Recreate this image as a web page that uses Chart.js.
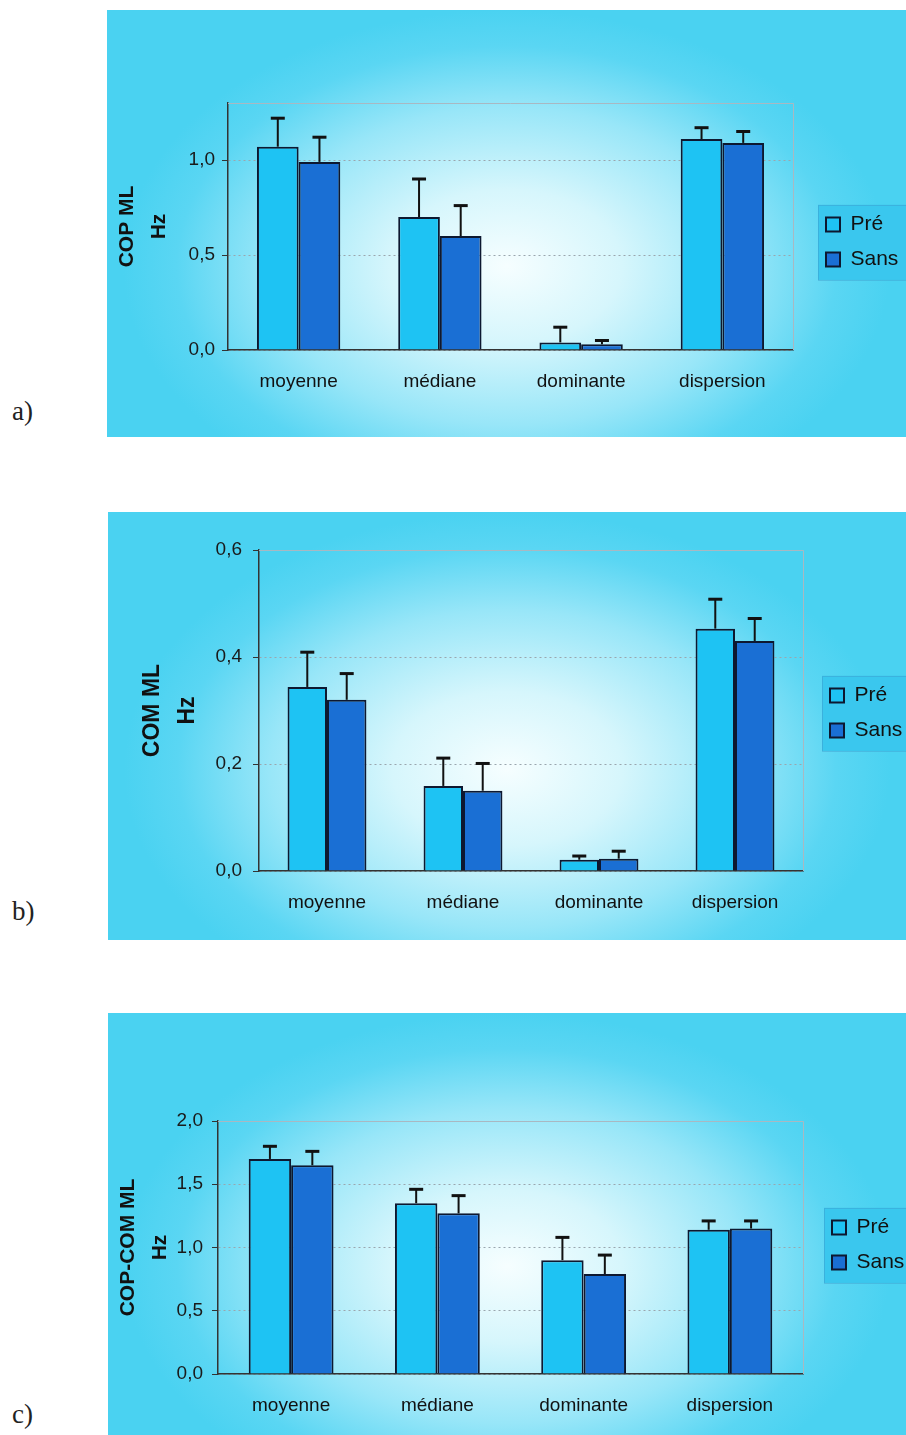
<!DOCTYPE html>
<html>
<head>
<meta charset="utf-8">
<script src="https://cdn.jsdelivr.net/npm/chart.js@4.4.0/dist/chart.umd.min.js"></script>
<style>
  body { margin: 0; background: #fff; width: 906px; height: 1435px; position: relative; overflow: hidden; }
  .panel {
    position: absolute;
    background: radial-gradient(ellipse 48% 60% at 50% 60%, #f6feff 0%, #d6f6fc 30%, #98e6f8 62%, #5ad6f3 86%, #4ad2f1 100%);
  }
  .panel canvas { position: absolute; left: 0; top: 0; }
  .tag { position: absolute; left: 12px; line-height: 30px; font: 27px "Liberation Serif", "Times New Roman", serif; color: #222; }
</style>
</head>
<body>
<div class="panel" style="left:107px;top:10px;width:799px;height:427px"><canvas id="chartA" width="799" height="427"></canvas></div>
<div class="panel" style="left:108px;top:512px;width:798px;height:428px"><canvas id="chartB" width="798" height="428"></canvas></div>
<div class="panel" style="left:108px;top:1013px;width:798px;height:422px"><canvas id="chartC" width="798" height="422"></canvas></div>
<div class="tag" style="top:396px">a)</div>
<div class="tag" style="top:896px">b)</div>
<div class="tag" style="top:1399px">c)</div>

<script>
// categories and series
const categories = ["moyenne", "médiane", "dominante", "dispersion"];
const seriesNames = ["Pré", "Sans"];

// a) COP ML (Hz)
const copPre = [1.07, 0.70, 0.04, 1.11];
const copSans = [0.99, 0.60, 0.03, 1.09];
const copPreSD = [0.15, 0.20, 0.08, 0.06];
const copSansSD = [0.13, 0.16, 0.02, 0.06];

// b) COM ML (Hz)
const comPre = [0.344, 0.159, 0.021, 0.453];
const comSans = [0.320, 0.150, 0.023, 0.430];
const comPreSD = [0.065, 0.052, 0.007, 0.055];
const comSansSD = [0.049, 0.051, 0.014, 0.042];

// c) COP-COM ML (Hz)
const diffPre = [1.70, 1.35, 0.90, 1.14];
const diffSans = [1.65, 1.27, 0.79, 1.15];
const diffPreSD = [0.10, 0.11, 0.18, 0.07];
const diffSansSD = [0.11, 0.14, 0.15, 0.06];

const preColor = "#1ec3f3";
const sansColor = "#1a6fd4";
const font = "'Liberation Sans', Arial, sans-serif";

// error bars (upper half only, with cap)
const errorBars = {
  id: "errorBars",
  afterDatasetsDraw(chart) {
    const ctx = chart.ctx;
    const y = chart.scales.y;
    chart.data.datasets.forEach((ds, i) => {
      chart.getDatasetMeta(i).data.forEach((bar, j) => {
        const top = y.getPixelForValue(ds.data[j] + ds.errors[j]);
        ctx.save();
        ctx.strokeStyle = "#111";
        ctx.lineWidth = 2;
        ctx.beginPath();
        ctx.moveTo(bar.x, bar.y);
        ctx.lineTo(bar.x, top);
        ctx.stroke();
        ctx.lineWidth = 3;
        ctx.beginPath();
        ctx.moveTo(bar.x - 7, top);
        ctx.lineTo(bar.x + 7, top);
        ctx.stroke();
        ctx.restore();
      });
    });
  }
};

// light frame on top/right of plot area
const plotFrame = {
  id: "plotFrame",
  beforeDatasetsDraw(chart) {
    const a = chart.chartArea, ctx = chart.ctx;
    ctx.save();
    ctx.strokeStyle = "#a9b8c2";
    ctx.lineWidth = 1;
    ctx.beginPath();
    ctx.moveTo(a.left, a.top + 0.5);
    ctx.lineTo(a.right + 0.5, a.top + 0.5);
    ctx.lineTo(a.right + 0.5, a.bottom);
    ctx.stroke();
    ctx.restore();
  }
};

// nudge legend and paint its box
const legendPlace = {
  id: "legendPlace",
  afterLayout(chart, args, opts) {
    const lg = chart.legend;
    lg.left += opts.dx; lg.right += opts.dx;
    lg.top += opts.dy; lg.bottom += opts.dy;
  },
  beforeDraw(chart) {
    const hb = chart.legend.legendHitBoxes;
    if (!hb || !hb.length) return;
    const ctx = chart.ctx;
    const x0 = hb[0].left - 8;
    const y0 = hb[0].top - 9;
    const y1 = hb[hb.length - 1].top + hb[hb.length - 1].height + 10;
    ctx.save();
    ctx.fillStyle = "#3ac7ee";
    ctx.fillRect(x0, y0, chart.width - x0, y1 - y0);
    ctx.strokeStyle = "rgba(60,150,200,0.45)";
    ctx.strokeRect(x0 + 0.5, y0 + 0.5, chart.width - x0, y1 - y0);
    ctx.restore();
  }
};

function makeChart(id, pre, sans, preSD, sansSD, cfg) {
  const chart = new Chart(document.getElementById(id), {
    type: "bar",
    data: {
      labels: categories,
      datasets: [
        { label: seriesNames[0], data: pre, errors: preSD, backgroundColor: preColor },
        { label: seriesNames[1], data: sans, errors: sansSD, backgroundColor: sansColor }
      ]
    },
    options: {
      responsive: false,
      animation: false,
      layout: { padding: { left: 0, right: 0, top: cfg.area.top, bottom: 0 } },
      datasets: {
        bar: {
          borderColor: "#0d1830",
          borderWidth: 2,
          categoryPercentage: cfg.groupWidth,
          barPercentage: 1.0
        }
      },
      scales: {
        x: {
          grid: { display: false, drawTicks: false },
          border: { display: true, color: "#333", width: 1.5 },
          ticks: { color: "#111", padding: 20, maxRotation: 0, font: { family: font, size: 19 } }
        },
        y: {
          min: 0,
          max: cfg.max,
          grid: { color: "#9aa6ae", tickColor: "#333", tickLength: 6, lineWidth: 1 },
          border: { display: true, color: "#333", width: 1.5, dash: [2, 3] },
          ticks: {
            stepSize: cfg.step,
            includeBounds: false,
            padding: cfg.tickPad,
            color: "#1a1a1a",
            font: { family: font, size: 19 },
            callback: v => v.toFixed(1).replace(".", ",")
          },
          title: {
            display: true,
            text: cfg.title,
            color: "#111",
            padding: { top: 0, bottom: cfg.titleGap },
            font: { family: font, size: cfg.titleSize, weight: "bold", lineHeight: cfg.titleLine }
          }
        }
      },
      plugins: {
        tooltip: { enabled: false },
        legend: {
          position: "right",
          labels: {
            color: "#111",
            boxWidth: 14,
            boxHeight: 14,
            padding: 14,
            font: { family: font, size: 21 }
          }
        },
        legendPlace: { dx: cfg.legendDx, dy: cfg.legendDy }
      }
    },
    plugins: [legendPlace, plotFrame, errorBars]
  });

  // match the plot area to the reference position
  for (let k = 0; k < 3; k++) {
    const a = chart.chartArea, p = chart.options.layout.padding, t = cfg.area;
    p.left += t.left - a.left;
    p.top += t.top - a.top;
    p.right += a.right - t.right;
    p.bottom += a.bottom - t.bottom;
    chart.update("none");
  }
  return chart;
}

makeChart("chartA", copPre, copSans, copPreSD, copSansSD, {
  area: { left: 121, right: 686, top: 93, bottom: 340 },
  max: 1.3, step: 0.5, groupWidth: 0.59, tickPad: 7,
  title: ["COP ML", "Hz"], titleSize: 21, titleLine: 1.55, titleGap: 6,
  legendDx: 19, legendDy: -16
});

makeChart("chartB", comPre, comSans, comPreSD, comSansSD, {
  area: { left: 151, right: 695, top: 38, bottom: 359 },
  max: 0.6, step: 0.2, groupWidth: 0.58, tickPad: 11,
  title: ["COM ML", "Hz"], titleSize: 23, titleLine: 1.52, titleGap: -1,
  legendDx: 13, legendDy: -29
});

makeChart("chartC", diffPre, diffSans, diffPreSD, diffSansSD, {
  area: { left: 110, right: 695, top: 108, bottom: 361 },
  max: 2.0, step: 0.5, groupWidth: 0.58, tickPad: 9,
  title: ["COP-COM ML", "Hz"], titleSize: 21, titleLine: 1.5, titleGap: -8,
  legendDx: 15, legendDy: -34
});
</script>
</body>
</html>
